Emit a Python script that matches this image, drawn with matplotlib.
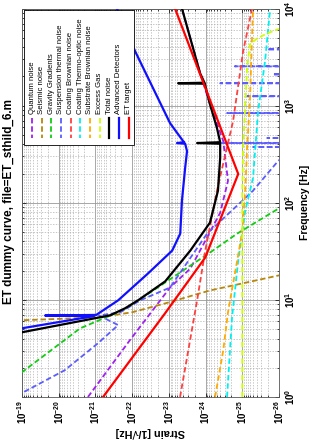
import numpy as np
import matplotlib
matplotlib.use('Agg')
import matplotlib.pyplot as plt
from matplotlib.ticker import FixedLocator, FuncFormatter, NullFormatter
from matplotlib.patches import Rectangle

plt.rcParams['font.family'] = ['Liberation Sans', 'DejaVu Sans']
plt.rcParams['mathtext.fontset'] = 'custom'
plt.rcParams['mathtext.rm'] = 'Liberation Sans'
plt.rcParams['mathtext.bf'] = 'Liberation Sans:bold'

# ---------------- data (frequency [Hz], strain [1/sqrt(Hz)]) ----------------
quantum_f = [1.0, 3.85, 13.4, 21.0, 43.8, 78.9, 168, 432, 617, 1035, 2153, 10000]
quantum_h = [1.6e-21, 1.15e-22, 9.3e-24, 2.6e-24, 9.1e-25, 4.0e-25, 2.45e-25, 3.3e-25, 4.6e-25, 7.6e-25, 1.4e-24, 4.4e-24]

seismic_f = [5.9, 6.17, 6.6, 7.45, 9.2, 12.5, 17.8, 20]
seismic_h = [1e-18, 1e-19, 8.5e-22, 1.0e-22, 1.26e-23, 7.6e-25, 1.05e-26, 2.5e-27]

gravity_f = [1.6, 1.8, 5.1, 8.0, 15.1, 30.7, 48.1, 86.7, 100]
gravity_h = [1.6e-19, 1e-19, 2.6e-21, 1.55e-22, 1.26e-23, 7.6e-25, 1.38e-25, 1.05e-26, 6e-27]

susp_f = [1.0, 1.1, 1.89, 3.58, 5.5, 6.9, 7.45, 9.9, 13.4, 48.1, 133, 270, 360]
susp_h = [1.3e-19, 1e-19, 6.8e-21, 8.5e-22, 2.4e-22, 8e-22, 2.1e-22, 6.0e-23, 9.3e-24, 9.1e-25, 5.1e-26, 1.05e-26, 4e-27]
# violin modes of the suspension thermal noise
violin_f = [375, 412, 464, 838, 1250, 1700, 2100, 2540, 3800]
violin_h = [5.1e-26, 4.0e-25, 2.1e-26, 2.6e-25, 7.4e-26, 4.0e-25, 1.5e-26, 1.6e-25, 2.1e-26]
violin_floor = 3e-27

cbrown_f = [1, 9.9, 32.2, 133, 694, 3620, 10000]
cbrown_h = [4.95e-24, 1.7e-24, 1.02e-24, 4.9e-25, 1.78e-25, 9.5e-26, 5.4e-26]

cto_f = [1, 6.6, 25.4, 82.8, 180, 879, 2860, 10000]
cto_h = [2.6e-25, 1.9e-25, 1.29e-25, 8.3e-26, 5.1e-26, 3.7e-26, 2.4e-26, 1.74e-26]

sub_f = [1, 3.03, 7.45, 48.1, 133, 367, 1110, 10000]
sub_h = [5.5e-25, 3.3e-25, 2.45e-25, 1.02e-25, 8.3e-26, 7.4e-26, 6.2e-26, 5.1e-26]

gas_f = [1, 132, 367, 2430, 4270, 4900, 5540, 6090, 6500]
gas_h = [1e-25, 1e-25, 9.5e-26, 7.4e-26, 6.2e-26, 4.0e-26, 2.1e-26, 1.1e-26, 5e-27]

total_f = [4.0, 4.64, 6.93, 8.2, 9.9, 15.5, 32.2, 62.4, 133, 290, 405, 412, 420, 589, 1035, 1680, 1700, 1720, 2153, 10000]
total_h = [2.2e-19, 1e-19, 4e-22, 1.55e-22, 6.9e-23, 1.26e-23, 2.6e-24, 7.6e-25, 4.6e-25, 4.0e-25, 4.0e-25, 1.7e-24, 4.0e-25, 4.9e-25, 7.6e-25, 1.05e-24, 5.6e-24, 1.07e-24, 1.41e-24, 4.4e-24]

adv_f = [4.5, 5.1, 6.8, 6.9, 7.0, 9.9, 18.7, 32.2, 48.1, 105, 229, 340, 405, 412, 420, 432, 661, 3630, 10000]
adv_h = [2e-19, 1e-19, 1.1e-21, 2.35e-20, 9.5e-22, 2.4e-22, 3.7e-23, 8.1e-24, 4.9e-24, 4.4e-24, 3.6e-24, 3.2e-24, 3.6e-24, 6.0e-24, 3.8e-24, 4.1e-24, 9.3e-24, 8.3e-23, 2.6e-22]

et_f = [1, 7.3, 27.3, 198, 10000]
et_h = [6.2e-22, 1.26e-23, 1.02e-24, 1.29e-25, 6.8e-24]

strain_ticks = [1e-19, 1e-20, 1e-21, 1e-22, 1e-23, 1e-24, 1e-25, 1e-26]
freq_ticks = [1, 10, 100, 1000, 10000]

labels = ['Quantum noise', 'Seismic noise', 'Gravity Gradients', 'Suspension thermal noise',
          'Coating Brownian noise', 'Coating Thermo-optic noise', 'Substrate Brownian noise',
          'Excess Gas', 'Total noise', 'Advanced Detectors', 'ET target']
colors = ['#a020f0', '#b8860b', '#11cc11', '#5c5cff', '#ff4040', '#00f0f0', '#ffaa00',
          '#ccff00', 'black', '#1010ff', '#ff0000']

# suspension curve with violin spikes merged in
sf, sh = list(susp_f), list(susp_h)
for vf, vh in zip(violin_f, violin_h):
    sf += [vf * 0.995, vf, vf * 1.005]
    sh += [violin_floor, vh, violin_floor]
sf += [10000]
sh += [violin_floor]
order = np.argsort(sf, kind='stable')
sf = np.array(sf)[order]
sh = np.array(sh)[order]

series = [(quantum_f, quantum_h), (seismic_f, seismic_h), (gravity_f, gravity_h), (sf, sh),
          (cbrown_f, cbrown_h), (cto_f, cto_h), (sub_f, sub_h), (gas_f, gas_h),
          (total_f, total_h), (adv_f, adv_h), (et_f, et_h)]
dash = (0, (3, 1.6))
styles = [dash] * 8 + ['-', '-', '-']

# ---------------- figure (plot drawn turned by 90 degrees) ----------------
TOP, BOT, LEFT, RIGHT = 8.5, 397.0, 22.0, 279.0
fig = plt.figure(figsize=(3.13, 4.43), dpi=100)
ax = fig.add_axes([LEFT / 313, 1 - BOT / 443, (RIGHT - LEFT) / 313, (BOT - TOP) / 443])
ax.set_xscale('log')
ax.set_yscale('log')

for i, (f, h) in enumerate(series):
    lw = 1.3 if i < 8 else 1.6
    ax.plot(h, f, color=colors[i], ls=styles[i], lw=lw, zorder=3 + i)

ax.set_xlim(strain_ticks[0], strain_ticks[-1])
ax.set_ylim(freq_ticks[0], freq_ticks[-1])

fmt = FuncFormatter(lambda v, p: r'$\mathbf{10^{%d}}$' % int(round(np.log10(v))))
ax.xaxis.set_major_locator(FixedLocator(strain_ticks))
ax.yaxis.set_major_locator(FixedLocator(freq_ticks))
ax.xaxis.set_minor_locator(FixedLocator([t * k for t in strain_ticks[1:] for k in range(2, 10)]))
ax.yaxis.set_minor_locator(FixedLocator([t * k for t in freq_ticks[:-1] for k in range(2, 10)]))
for axis in (ax.xaxis, ax.yaxis):
    axis.set_major_formatter(fmt)
    axis.set_minor_formatter(NullFormatter())

ax.grid(True, which='major', color='#999999', lw=0.6, ls='-')
ax.grid(True, which='minor', color='#b0b0b0', lw=0.5, ls=(0, (2, 2)))
ax.set_axisbelow(True)

ax.tick_params(which='both', direction='in', top=True, right=True, left=True, bottom=True, width=0.5)
ax.tick_params(which='major', length=3)
ax.tick_params(which='minor', length=1.5)
ax.tick_params(axis='x', which='major', labelrotation=90, labelsize=7, pad=2)
ax.tick_params(axis='y', which='major', labelleft=False, labelright=True, labelrotation=90,
               labelsize=7, pad=3)
plt.setp(ax.get_yticklabels(), va='center')
for sp in ax.spines.values():
    sp.set_linewidth(0.6)
    sp.set_color('#555555')

ax.yaxis.set_label_position('right')
ax.set_ylabel('Frequency [Hz]', rotation=90, fontsize=7.5, fontweight='bold', labelpad=2)
ax.set_xlabel('Strain [1/\u221aHz]', rotation=180, fontsize=7.8, fontweight='bold', labelpad=2)

fig.text(9 / 313, 1 - 202 / 443, 'ET dummy curve, file=ET_sthild_6.m', rotation=90,
         ha='center', va='center', fontsize=8.5, fontweight='bold')

# ---------------- legend (turned as well) ----------------
def fx(px):
    return (px - LEFT) / (RIGHT - LEFT)

def fy(py):
    return (BOT - py) / (BOT - TOP)

ax.add_patch(Rectangle((fx(23.5), fy(145)), fx(134) - fx(23.5), fy(9.5) - fy(145),
                       transform=ax.transAxes, facecolor='white', edgecolor='black',
                       lw=0.6, zorder=20, clip_on=False))
for i, lab in enumerate(labels):
    xp = fx(32 + 9.65 * i)
    lw = 1.3 if i < 8 else 1.6
    ax.plot([xp, xp], [fy(118), fy(138)], transform=ax.transAxes, color=colors[i],
            ls=styles[i], lw=lw, zorder=21, clip_on=False)
    ax.text(xp, fy(114), lab, transform=ax.transAxes, rotation=90, ha='center',
            va='bottom', fontsize=5.6, zorder=21)

fig.savefig('out.png', dpi=100)
